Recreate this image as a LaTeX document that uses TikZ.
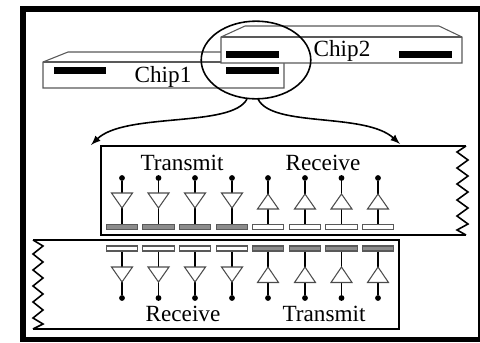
\documentclass[tikz,border=0pt]{standalone}
\usepackage{fontspec}
\setmainfont{Liberation Serif}
\usetikzlibrary{shapes.geometric, calc}
\tikzset{
    lbl/.style={font=\fontsize{13.2}{14}\selectfont, inner sep=0pt},
    pad/.style={draw=black!65, line width=0.6pt, fill=white, minimum width=31.5*0.5669pt, minimum height=5*0.5669pt, inner sep=0pt},
    padon/.style={pad, fill=black!45},
    bar/.style={fill=black, inner sep=0pt, minimum width=53*0.5669pt, minimum height=6.5*0.5669pt},
    dot/.style={circle, fill=black, inner sep=0pt, minimum size=3.3pt},
    wire/.style={line width=0.7pt},
    tri/.style={draw=black!70, line width=0.6pt, fill=white},
    zig/.style={line width=0.9pt, line join=miter}
}
\begin{document}
\begin{tikzpicture}[x=0.02cm, y=-0.02cm]
    \useasboundingbox (0,0) rectangle (480,342);
    % outer frame
    \draw[line width=3.3pt] (480,9) -- (23,9) -- (23,339.5) -- (480,339.5);
    \draw[line width=1.1pt] (479,9) -- (479,339);
    % chips
    \draw[draw=black!65, line width=0.6pt, fill=white] (43,62) -- (68,52) -- (284,52) -- (284,88) -- (43,88) -- cycle;
    \draw[draw=black!65, line width=0.6pt] (43,62) -- (284,62);
    \draw[draw=black!65, line width=0.6pt, fill=white] (221,37) -- (245,26) -- (439,26) -- (462,37) -- (462,63) -- (221,63) -- cycle;
    \draw[draw=black!65, line width=0.6pt] (221,37) -- (462,37);
    \node[bar] (barA) at (80,70.5) {};
    \node[bar] (barB) at (252.5,70.5) {};
    \node[bar] (barC) at (252.5,54.5) {};
    \node[bar] (barD) at (425.5,54.5) {};
    \node[lbl] (chipA) at (163,77) {Chip1};
    \node[lbl] (chipB) at (342,51) {Chip2};
    % zoom circle and arrows
    \node[draw, ellipse, line width=0.9pt, minimum width=110*0.5669pt, minimum height=78*0.5669pt, inner sep=0pt] (zoomc) at (256,60) {};
    \coordinate (leftend) at (91,145);
    \coordinate (rightend) at (400,144);
    \draw[-latex, line width=0.9pt] (247,99) .. controls (232,128) and (125,112) .. (leftend);
    \draw[-latex, line width=0.9pt] (258,99) .. controls (272,128) and (365,112) .. (rightend);
    % upper board
    \draw[line width=1.1pt] (466,146) -- (101,146) -- (101,235) -- (466,235);
    \draw[zig] (466,146) -- (457,152) -- (468,160) -- (457,168) -- (468,176) -- (457,184) -- (468,192) -- (457,200) -- (468,208) -- (457,216) -- (468,224) -- (457,230) -- (466,235);
    % lower board
    \draw[line width=1.1pt] (33,240) -- (399,240) -- (399,329) -- (33,329);
    \draw[zig] (33,240) -- (43,246) -- (33,254) -- (43,262) -- (33,270) -- (43,278) -- (33,286) -- (43,294) -- (33,302) -- (43,310) -- (33,318) -- (43,324) -- (33,329);
    % upper drivers
    \foreach \x/\kind [count=\i] in {122/padon,158.5/padon,195/padon,232/padon,268/pad,305/pad,341.5/pad,378/pad} {
        \node[\kind] (up\i) at (\x,227) {};
        \node[dot] (upd\i) at (\x,178) {};
    }
    \foreach \i in {1,2,3,4} {
        \draw[wire] (upd\i) -- (up\i);
        \draw[tri] ($(upd\i)+(-10.5,15)$) -- ($(upd\i)+(10.5,15)$) -- ($(upd\i)+(0,30)$) -- cycle;
    }
    \foreach \i in {5,6,7,8} {
        \draw[wire] (upd\i) -- (up\i);
        \draw[tri] ($(upd\i)+(-10.5,31)$) -- ($(upd\i)+(10.5,31)$) -- ($(upd\i)+(0,16)$) -- cycle;
    }
    % lower drivers
    \foreach \x/\kind [count=\i] in {122/pad,158.5/pad,195/pad,232/pad,268/padon,305/padon,341.5/padon,378/padon} {
        \node[\kind] (lo\i) at (\x,248.5) {};
        \node[dot] (lod\i) at (\x,298) {};
    }
    \foreach \i in {1,2,3,4} {
        \draw[wire] (lo\i) -- (lod\i);
        \draw[tri] ($(lod\i)+(-10.5,-31)$) -- ($(lod\i)+(10.5,-31)$) -- ($(lod\i)+(0,-16)$) -- cycle;
    }
    \foreach \i in {5,6,7,8} {
        \draw[wire] (lo\i) -- (lod\i);
        \draw[tri] ($(lod\i)+(-10.5,-15.5)$) -- ($(lod\i)+(10.5,-15.5)$) -- ($(lod\i)+(0,-31)$) -- cycle;
    }
    % labels
    \node[lbl] (txA) at (182,163) {Transmit};
    \node[lbl] (rxA) at (323,163) {Receive};
    \node[lbl] (rxB) at (183,314) {Receive};
    \node[lbl] (txB) at (324,314) {Transmit};
\end{tikzpicture}
\end{document}
